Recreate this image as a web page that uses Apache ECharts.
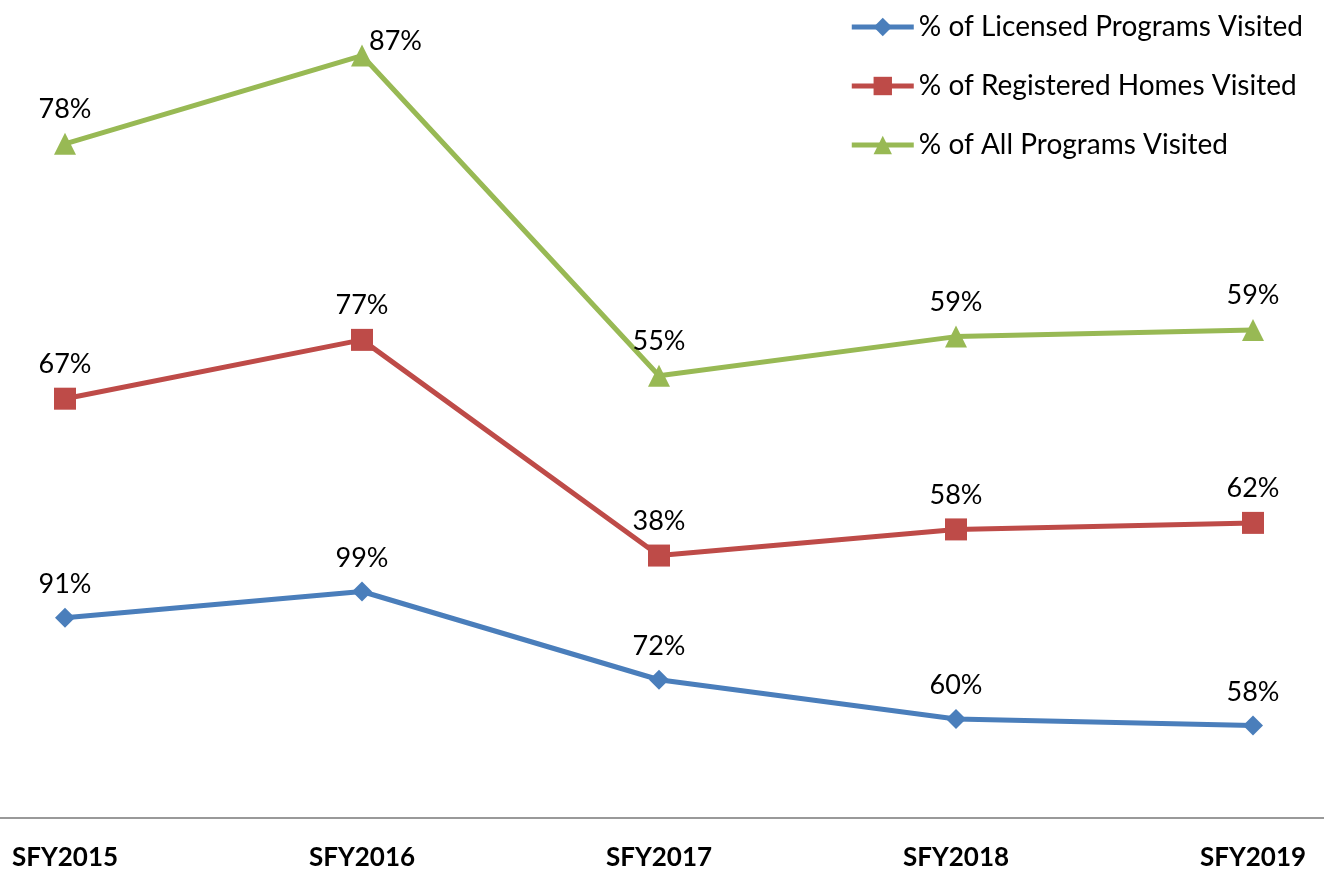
<!DOCTYPE html>
<html>
<head>
<meta charset="utf-8">
<script src="https://cdn.jsdelivr.net/npm/echarts@6/dist/echarts.min.js"></script>
<style>
  html, body { margin: 0; padding: 0; background: #fff; }
  #main { width: 1324px; height: 871px; }
</style>
</head>
<body>
<div id="main"></div>
<script>
// chart data
var years = ['SFY2015', 'SFY2016', 'SFY2017', 'SFY2018', 'SFY2019'];
var licensed = [91, 99, 72, 60, 58];
var registered = [67, 77, 38, 58, 62];
var allPrograms = [78, 87, 55, 59, 59];

var colors = ['#4a7ebb', '#be4b48', '#98b954'];
var font = 'Lato, "Open Sans", sans-serif';

function makeSeries(name, data, symbol, size, color) {
  return {
    name: name,
    type: 'line',
    stack: 'total',
    xAxisIndex: 0,
    yAxisIndex: 0,
    data: data.map(function (v) {
      // the topmost label sits beside its marker, as in the original
      if (symbol === 'triangle' && v === Math.max.apply(null, data)) {
        return { value: v, label: { position: 'right', distance: 0, offset: [-4, -14] } };
      }
      return v;
    }),
    symbol: symbol,
    symbolSize: size,
    lineStyle: { width: 5, color: color },
    itemStyle: { color: color },
    label: {
      show: true,
      position: 'top',
      distance: 10,
      formatter: '{c}%',
      color: '#000',
      fontSize: 27,
      fontFamily: font
    }
  };
}

var myChart = echarts.init(document.getElementById('main'));
var option = {
  animation: false,
  color: colors,
  legend: {
    orient: 'vertical',
    right: 16,
    top: 8,
    itemWidth: 62,
    itemHeight: 23,
    itemGap: 31,
    lineStyle: { width: 5 },
    textStyle: { fontSize: 28, fontFamily: font, color: '#000' },
    data: ['% of Licensed Programs Visited', '% of Registered Homes Visited', '% of All Programs Visited']
  },
  grid: [
    { left: 65, right: 71, top: 0, bottom: 53 },
    { left: 0, right: 0, top: 0, bottom: 53 }
  ],
  xAxis: [
    {
      type: 'category',
      gridIndex: 0,
      boundaryGap: false,
      data: years,
      axisTick: { show: false },
      axisLine: { show: false },
      axisLabel: {
        margin: 28,
        color: '#000',
        fontSize: 26,
        fontWeight: 'bold',
        fontFamily: font
      }
    },
    {
      // full-width baseline
      type: 'value',
      gridIndex: 1,
      min: 0,
      max: 1,
      axisLine: { show: true, lineStyle: { color: '#999', width: 2 } },
      axisTick: { show: false },
      axisLabel: { show: false },
      splitLine: { show: false }
    }
  ],
  yAxis: [
    { type: 'value', gridIndex: 0, min: 30, max: 280, show: false, splitLine: { show: false } },
    { type: 'value', gridIndex: 1, min: 0, max: 1, show: false, splitLine: { show: false } }
  ],
  series: [
    makeSeries('% of Licensed Programs Visited', licensed, 'diamond', 20, colors[0]),
    makeSeries('% of Registered Homes Visited', registered, 'rect', 22, colors[1]),
    makeSeries('% of All Programs Visited', allPrograms, 'triangle', 22, colors[2])
  ]
};
myChart.setOption(option);
</script>
</body>
</html>
